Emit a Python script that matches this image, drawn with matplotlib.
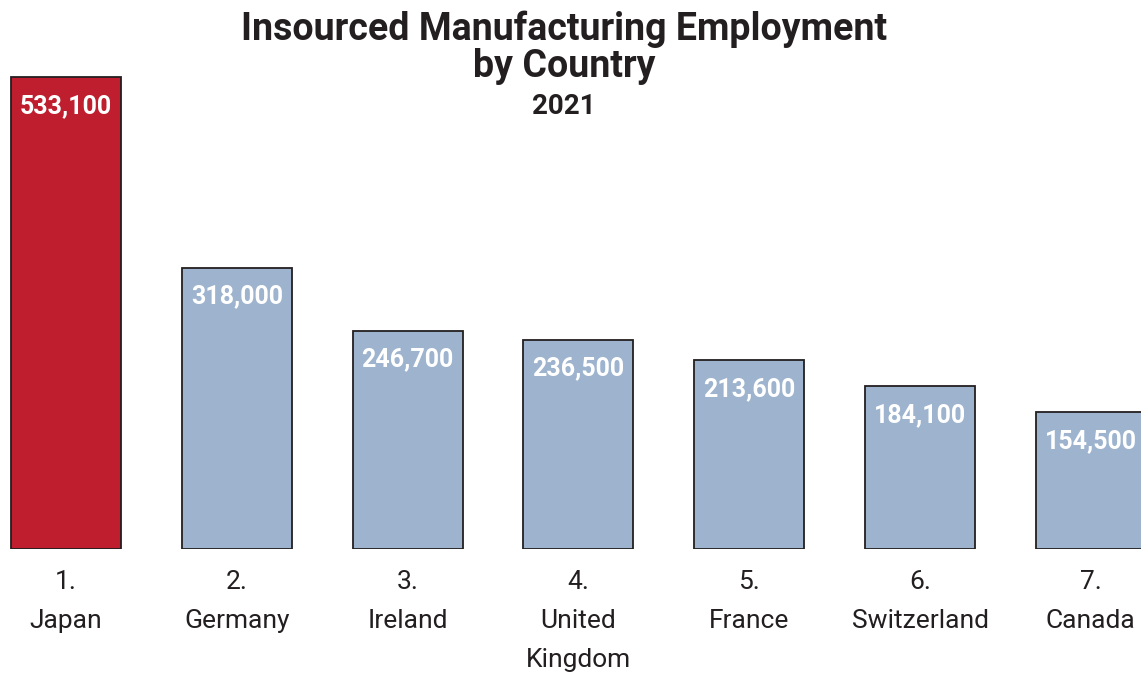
"""
Insourced Manufacturing Employment by Country, 2021 - bar chart
Output: out.png
"""

import matplotlib.pyplot as plt
from matplotlib import font_manager

# ─────────────────────────────────────────────
# DATA
# ─────────────────────────────────────────────
ranks     = ["1.", "2.", "3.", "4.", "5.", "6.", "7."]
countries = ["Japan", "Germany", "Ireland", "United\nKingdom", "France", "Switzerland", "Canada"]
employment = [533100, 318000, 246700, 236500, 213600, 184100, 154500]

TITLE    = "Insourced Manufacturing Employment\nby Country"
SUBTITLE = "2021"

# ─────────────────────────────────────────────
# STYLE
# ─────────────────────────────────────────────
RED   = "#BE1E2D"
BLUE  = "#9DB3CE"
EDGE  = "#231F20"
TEXT  = "#231F20"

names = {f.name for f in font_manager.fontManager.ttflist}
FONT = ["Liberation Sans Narrow"] if "Liberation Sans Narrow" in names else ["Roboto"]
plt.rcParams["font.family"] = FONT + ["DejaVu Sans"]

W, H = 1141, 674
fig = plt.figure(figsize=(W / 100, H / 100), dpi=100)

# axes fills full width, baseline at y=549px
ax = fig.add_axes([0, (H - 549) / H, 1, 549 / H])
step_px = 170.8
left = -66 / step_px
ax.set_xlim(left, left + W / step_px)
ax.set_ylim(0, 549 / 0.000885)

x = list(range(len(employment)))
colors = [RED] + [BLUE] * (len(employment) - 1)
ax.bar(x, employment, width=0.645, color=colors, edgecolor=EDGE, linewidth=1.3)

for xi, v in zip(x, employment):
    ax.annotate(f"{v:,}", (xi, v), xytext=(0, -29), textcoords="offset pixels",
                ha="center", va="center", color="white", fontsize=18, fontweight="bold")

ax.set_xticks(x)
ax.set_xticklabels([f"{r}\n{c}" for r, c in zip(ranks, countries)],
                   fontsize=19, color=TEXT, linespacing=1.8, va="top")
ax.tick_params(axis="x", length=0, pad=15)
ax.set_yticks([])
for s in ax.spines.values():
    s.set_visible(False)

fig.text(564 / W, 1 - 48 / H, TITLE, ha="center", va="center", fontsize=27,
         fontweight="bold", color=TEXT, linespacing=1.0)
fig.text(564 / W, 1 - 107 / H, SUBTITLE, ha="center", va="center", fontsize=20,
         fontweight="bold", color=TEXT)

fig.savefig("out.png", dpi=100)
